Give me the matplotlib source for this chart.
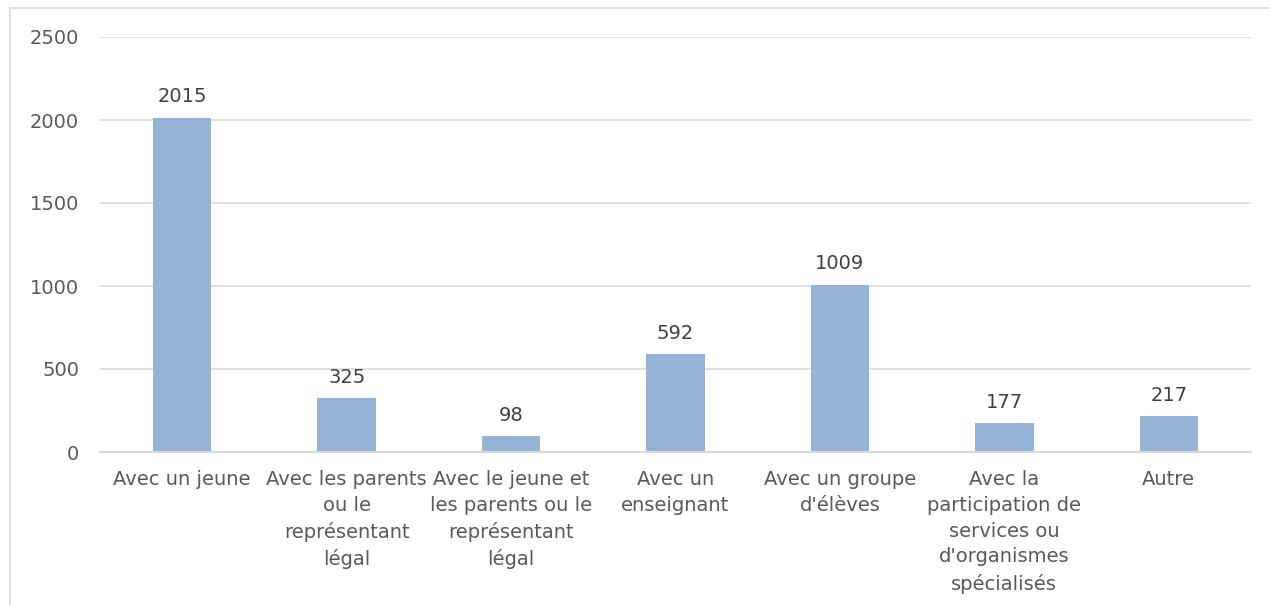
import matplotlib
matplotlib.use("Agg")
import matplotlib.pyplot as plt
from matplotlib.patches import Rectangle

categories = [
    "Avec un jeune",
    "Avec les parents\nou le\nreprésentant\nlégal",
    "Avec le jeune et\nles parents ou le\nreprésentant\nlégal",
    "Avec un\nenseignant",
    "Avec un groupe\nd'élèves",
    "Avec la\nparticipation de\nservices ou\nd'organismes\nspécialisés",
    "Autre",
]
values = [2015, 325, 98, 592, 1009, 177, 217]
yticks = [0, 500, 1000, 1500, 2000, 2500]

plt.rcParams['font.family'] = ['DejaVu Sans']

W, H = 1269, 605
fig = plt.figure(figsize=(W / 100, H / 100), dpi=100)
ax = fig.add_axes([100 / W, 1 - 452 / H, 1151 / W, 415 / H])

x = list(range(len(categories)))
ax.bar(x, values, width=0.355, color="#95B3D7", zorder=3)
ax.set_xlim(-0.5, len(categories) - 0.5)
ax.set_ylim(0, 2500)
ax.set_yticks(yticks)
ax.set_yticklabels([str(t) for t in yticks])
ax.set_xticks(x)
ax.set_xticklabels(categories, linespacing=1.45)

for xi, v in zip(x, values):
    ax.annotate(str(v), (xi, v), xytext=(0, 8), textcoords="offset points",
                ha="center", va="bottom", fontsize=14, color="#404040")

ax.grid(axis="y", color="#D9D9D9", linewidth=1.2, zorder=0)
for s in ["top", "right", "left"]:
    ax.spines[s].set_visible(False)
ax.spines["bottom"].set_color("#D9D9D9")
ax.spines["bottom"].set_linewidth(1.5)
ax.spines["bottom"].set_zorder(4)
ax.tick_params(axis="both", length=0, labelsize=14, colors="#595959")
ax.tick_params(axis="y", pad=15)
ax.tick_params(axis="x", pad=13)
for lbl in ax.get_xticklabels():
    lbl.set_verticalalignment("top")

fig.patches.append(Rectangle((10 / W, -0.1), 1.2, 1.1 - 8 / H, transform=fig.transFigure,
                             fill=False, edgecolor="#D9D9D9", linewidth=1.2))

fig.savefig("out.png", dpi=100)
